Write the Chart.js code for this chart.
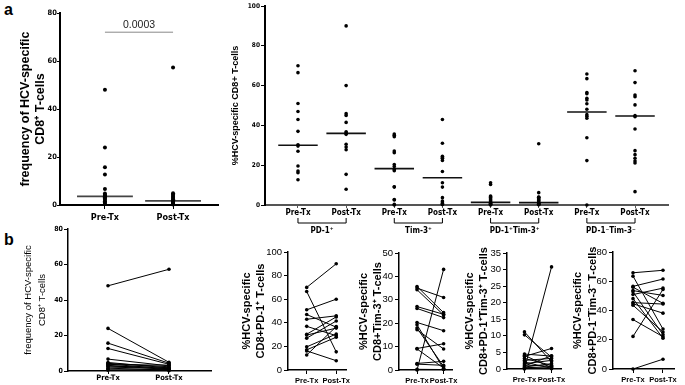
<!DOCTYPE html>
<html>
<head>
<meta charset="utf-8">
<script src="https://cdn.jsdelivr.net/npm/chart.js@4.4.0/dist/chart.umd.min.js"></script>
<style>
  body { margin: 0; background: #fff; width: 685px; height: 385px; position: relative; overflow: hidden; font-family: "Liberation Sans", Arial, sans-serif; }
  canvas { position: absolute; }
  .panel { position: absolute; font-weight: bold; font-size: 16px; line-height: 16px; }
</style>
</head>
<body>
<div class="panel" style="left:4px;top:2px">a</div>
<div class="panel" style="left:4px;top:232px">b</div>
<script>
// data
const timepoints = ['Pre-Tx', 'Post-Tx'];
const groupLabels = ['PD-1\u207A', 'Tim-3\u207A', 'PD-1\u207ATim-3\u207A', 'PD-1\u207BTim-3\u207B'];
const pValue = '0.0003';
const pValueY = 72;

const freqPre = [48, 24, 15.7, 12.7, 6.7, 4.8, 4.3, 3.9, 3.6, 3.2, 2.7, 2.2, 1.6, 1.0, 0.4];
const freqPost = [57.3, 4.9, 4.4, 3.8, 2.9, 1.7, 2.4, 1.2, 3.3, 0.8, 2.0, 1.4, 0.5, 0.9, 0.2];
const freqMedian = [3.6, 1.7];

const pd1Pre = [70, 66.5, 51, 47, 43, 37, 30.3, 29.6, 27, 19.6, 17.1, 16.2, 12.7];
const pd1Post = [90, 15.4, 60, 36.3, 45.9, 29.1, 45, 35.5, 41.5, 30.5, 27.8, 7.9, 36.8];
const pd1Median = [30, 36];

const tim3Pre = [35.7, 35.0, 34.3, 27.1, 26.3, 20.3, 19.3, 17.9, 17.2, 9.2, 9.0, 2.8, 2.5, 0.3, 0];
const tim3Post = [24.5, 31.0, 23.5, 23.8, 22.4, 16.8, 0.5, 1.5, 9.0, 11.2, 0.8, 3.7, 2.0, 0.2, 43.0];
const tim3Median = [18.3, 13.7];

const dpPre = [11.2, 10.3, 4.5, 4.1, 3.8, 3.2, 2.6, 2.1, 1.6, 1.2, 0.9, 0.6, 0.4, 0.2, 0];
const dpPost = [2.2, 3.6, 3.9, 0.4, 6.2, 1.1, 3.2, 0.2, 2.6, 0.8, 4.0, 1.6, 0.6, 0.1, 30.8];
const dpMedian = [1.3, 1.2];

const dnPre = [65.8, 63.5, 56.5, 55.9, 53.6, 52.8, 50.9, 48.1, 45.4, 44.6, 43.6, 33.8, 22.3, 0];
const dnPost = [67.5, 27.3, 61.5, 44.9, 50.3, 23.5, 55.3, 21.1, 44.4, 38.2, 25.3, 22.1, 54.4, 6.7];
const dnMedian = [46.7, 44.7];

const narrow = '"Liberation Sans Narrow", "DejaVu Sans Condensed", sans-serif';
const arial = '"Liberation Sans", Arial, sans-serif';

function place(box) {
  const c = document.createElement('canvas');
  c.width = box.w; c.height = box.h;
  c.style.left = box.x + 'px'; c.style.top = box.y + 'px';
  c.style.width = box.w + 'px'; c.style.height = box.h + 'px';
  document.body.appendChild(c);
  return c;
}

// box = canvas position on page, area = wanted plot area on page
function build(box, area, datasets, o) {
  const pad = { left: 0, top: area.top - box.y, right: box.x + box.w - area.right, bottom: 0 };
  const yW = area.left - box.x;
  const xH = box.y + box.h - area.bottom;
  return new Chart(place(box), {
    type: 'scatter',
    data: { datasets: datasets },
    options: {
      responsive: false,
      animation: false,
      devicePixelRatio: 1,
      layout: { padding: pad },
      plugins: { legend: { display: false }, tooltip: { enabled: false } },
      scales: {
        x: {
          type: 'linear', min: o.xMin, max: o.xMax,
          afterBuildTicks: s => { s.ticks = o.xTicks.map(v => ({ value: v })); },
          afterFit: s => { s.height = xH; },
          ticks: { callback: o.xLabel, font: o.xFont, color: '#000', padding: o.xPad, maxRotation: 0, autoSkip: false },
          grid: { display: true, drawOnChartArea: false, tickLength: o.xTick, color: o.xColor || '#000', lineWidth: 1 },
          border: { display: true, color: o.xColor || '#000', width: o.border }
        },
        y: {
          min: 0, max: o.yMax,
          afterFit: s => { s.width = yW; },
          ticks: { stepSize: o.yStep, font: o.yFont, color: '#000', padding: o.yPad, autoSkip: false },
          grid: { display: true, drawOnChartArea: false, tickLength: o.yTick || 4, color: '#000', lineWidth: 1 },
          border: { display: true, color: '#000', width: o.border },
          title: { display: true, text: o.title, font: o.titleFont, color: '#000', padding: { top: o.titlePad, bottom: 0 } }
        }
      }
    },
    plugins: o.plugins || []
  });
}

function dots(values, x, r) {
  return { data: values.map(v => ({ x: x, y: v })), pointRadius: r, pointBackgroundColor: '#000', pointBorderWidth: 0, showLine: false, clip: false };
}
function median(v, x, half, color) {
  return { data: [{ x: x - half, y: v }, { x: x + half, y: v }], showLine: true, pointRadius: 0, borderColor: color, borderWidth: 1.6, clip: false };
}
function pairs(pre, post) {
  return pre.map((v, i) => ({
    data: [{ x: 0, y: v }, { x: 1, y: post[i] }], showLine: true, borderColor: '#000', borderWidth: 1,
    pointRadius: 1.8, pointBackgroundColor: '#000', pointBorderWidth: 0, clip: false
  }));
}

// panel a, left: frequency
const pValuePlugin = {
  id: 'pvalue',
  afterDraw(chart) {
    const { ctx, scales: { x, y } } = chart;
    const x1 = x.getPixelForValue(0), x2 = x.getPixelForValue(1), yy = y.getPixelForValue(pValueY);
    ctx.save();
    ctx.strokeStyle = '#888'; ctx.lineWidth = 1;
    ctx.beginPath(); ctx.moveTo(x1, yy); ctx.lineTo(x2, yy); ctx.stroke();
    ctx.fillStyle = '#222'; ctx.font = '10.5px ' + arial; ctx.textAlign = 'center';
    ctx.fillText(pValue, (x1 + x2) / 2, yy - 4);
    ctx.restore();
  }
};

build({ x: 0, y: 0, w: 228, h: 224 }, { left: 60, top: 13, right: 218, bottom: 205 }, [
  dots(freqPre, 0, 2), dots(freqPost, 1, 2),
  median(freqMedian[0], 0, 0.41, '#444'), median(freqMedian[1], 1, 0.41, '#444')
], {
  xMin: -0.66, xMax: 1.66, xTicks: [0, 1], xLabel: v => timepoints[v],
  xFont: { family: narrow, size: 9, weight: 'bold' }, xPad: 3, xTick: 4,
  yMax: 80, yStep: 20, yFont: { family: narrow, size: 7.5, weight: 'bold' }, yPad: 0, yTick: 3, border: 2,
  title: ['frequency of HCV-specific', 'CD8\u207A T-cells'],
  titleFont: { family: arial, size: 12.5, weight: 'bold', lineHeight: 1.15 }, titlePad: 18.5,
  plugins: [pValuePlugin]
});

// panel a, right: phenotypes
const groups = [[pd1Pre, pd1Post, pd1Median], [tim3Pre, tim3Post, tim3Median], [dpPre, dpPost, dpMedian], [dnPre, dnPost, dnMedian]];
const phenoSets = [];
groups.forEach((g, i) => {
  phenoSets.push(dots(g[0], 2 * i, 1.8), dots(g[1], 2 * i + 1, 1.8));
  phenoSets.push(median(g[2][0], 2 * i, 0.41, '#111'), median(g[2][1], 2 * i + 1, 0.41, '#111'));
});
const bracketPlugin = {
  id: 'brackets',
  afterDraw(chart) {
    const { ctx, scales: { x } } = chart;
    const b = chart.chartArea.bottom;
    ctx.save();
    ctx.strokeStyle = '#000'; ctx.lineWidth = 1;
    ctx.fillStyle = '#000'; ctx.font = 'bold 8px ' + narrow; ctx.textAlign = 'center';
    groupLabels.forEach((g, i) => {
      const x1 = x.getPixelForValue(2 * i), x2 = x.getPixelForValue(2 * i + 1);
      ctx.beginPath();
      ctx.moveTo(x1, b + 13); ctx.lineTo(x1, b + 18); ctx.lineTo(x2, b + 18); ctx.lineTo(x2, b + 13);
      ctx.stroke();
      ctx.fillText(g, (x1 + x2) / 2, b + 28);
    });
    ctx.restore();
  }
};
build({ x: 230, y: 0, w: 455, h: 238 }, { left: 265, top: 6, right: 668, bottom: 205 }, phenoSets, {
  xMin: -0.685, xMax: 7.685, xTicks: [0, 1, 2, 3, 4, 5, 6, 7], xLabel: v => timepoints[v % 2],
  xFont: { family: narrow, size: 8, weight: 'bold' }, xPad: 0, xTick: 3, xColor: '#555',
  yMax: 100, yStep: 20, yFont: { family: narrow, size: 6.5, weight: 'bold' }, yPad: 1, border: 2,
  title: '%HCV-specific CD8+ T-cells',
  titleFont: { family: arial, size: 9, weight: 'bold', lineHeight: 1.2 }, titlePad: 0,
  plugins: [bracketPlugin]
});

// panel b, left: paired frequency
build({ x: 0, y: 220, w: 222, h: 165 }, { left: 68, top: 229, right: 211, bottom: 371 }, pairs(freqPre, freqPost), {
  xMin: -0.656, xMax: 1.689, xTicks: [0, 1], xLabel: v => timepoints[v],
  xFont: { family: narrow, size: 7.5, weight: 'bold' }, xPad: 0, xTick: 3,
  yMax: 80, yStep: 20, yFont: { family: narrow, size: 7, weight: 'bold' }, yPad: 1, border: 1.5,
  title: ['frequency of HCV-specific', 'CD8\u207A T-cells'],
  titleFont: { family: arial, size: 9.5, lineHeight: 1.47 }, titlePad: 21
});

// panel b, paired phenotypes
const bPanels = [
  { box: { x: 238, y: 236, w: 115, h: 149 }, area: { left: 288, top: 252, right: 347, bottom: 370 }, pre: pd1Pre, post: pd1Post, max: 100, step: 20, xMin: -0.633, xMax: 1.333, line2: 'CD8+PD-1\u207A T-cells', pad: 1.85 },
  { box: { x: 354, y: 236, w: 106, h: 149 }, area: { left: 399, top: 253, right: 458, bottom: 370 }, pre: tim3Pre, post: tim3Post, max: 50, step: 10, xMin: -0.678, xMax: 1.322, line2: 'CD8+Tim-3\u207A T-cells', pad: 2.35 },
  { box: { x: 462, y: 236, w: 106, h: 149 }, area: { left: 507, top: 253, right: 565, bottom: 369 }, pre: dpPre, post: dpPost, max: 35, step: 5, xMin: -0.645, xMax: 1.355, line2: 'CD8+PD-1\u207ATim-3\u207A T-cells', pad: 0.85 },
  { box: { x: 570, y: 236, w: 115, h: 149 }, area: { left: 613, top: 252, right: 674, bottom: 369 }, pre: dnPre, post: dnPost, max: 80, step: 20, xMin: -0.667, xMax: 1.367, line2: 'CD8+PD-1\u207BTim-3\u207B T-cells', pad: 1.2 }
];
bPanels.forEach(p => {
  build(p.box, p.area, pairs(p.pre, p.post), {
    xMin: p.xMin, xMax: p.xMax, xTicks: [0, 1], xLabel: v => timepoints[v],
    xFont: { family: arial, size: 7.5, weight: 'bold' }, xPad: 2, xTick: 4,
    yMax: p.max, yStep: p.step, yFont: { family: arial, size: 9.5 }, yPad: 2, border: 1.5,
    title: ['%HCV-specific', p.line2],
    titleFont: { family: arial, size: 11, weight: 'bold', lineHeight: 1.3 }, titlePad: p.pad
  });
});
</script>
</body>
</html>
